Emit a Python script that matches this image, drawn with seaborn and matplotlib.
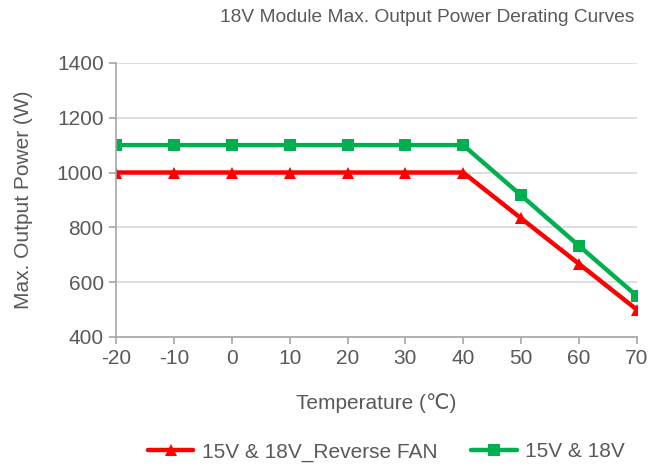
import matplotlib
matplotlib.use("Agg")
import matplotlib.pyplot as plt
import seaborn as sns
import pandas as pd

# data
temperature = [-20, -10, 0, 10, 20, 30, 40, 50, 60, 70]
reverse_fan = [1000, 1000, 1000, 1000, 1000, 1000, 1000, 833, 667, 500]
normal_fan = [1100, 1100, 1100, 1100, 1100, 1100, 1100, 917, 733, 550]
series_names = ["15V & 18V_Reverse FAN", "15V & 18V"]

df = pd.concat([
    pd.DataFrame({"temp": temperature, "power": reverse_fan, "series": series_names[0]}),
    pd.DataFrame({"temp": temperature, "power": normal_fan, "series": series_names[1]}),
])

sns.set_style("white")
plt.rcParams["font.family"] = ["Liberation Sans", "DejaVu Sans"]
plt.rcParams["axes.unicode_minus"] = False
text_col = "#595959"

fig = plt.figure(figsize=(6.49, 4.66), dpi=100)
ax = fig.add_axes([0.179, 0.277, 0.802, 0.588])

sns.lineplot(data=df, x="temp", y="power", hue="series", style="series",
             palette=["#ff0000", "#00b050"], markers=["^", "s"], dashes=False,
             linewidth=3.2, markersize=9, markeredgewidth=0, ax=ax)

ax.set_xlim(-20, 70)
ax.set_ylim(400, 1400)
ax.set_xticks(temperature)
ax.set_yticks(range(400, 1401, 200))
ax.margins(0)
ax.yaxis.grid(True, color="#d9d9d9", linewidth=1.2)
ax.set_axisbelow(True)
for side in ["top", "right"]:
    ax.spines[side].set_visible(False)
for side in ["left", "bottom"]:
    ax.spines[side].set_color("#a6a6a6")
    ax.spines[side].set_linewidth(1.2)
ax.tick_params(axis="both", direction="out", length=5, width=1.2,
               color="#a6a6a6", labelsize=15, labelcolor=text_col, pad=4)
ax.tick_params(left=True, bottom=True)

ax.set_xlabel("Temperature (℃)", fontsize=15, color=text_col, labelpad=18)
ax.set_ylabel("Max. Output Power (W)", fontsize=15, color=text_col, labelpad=17)

fig.text(0.978, 0.962, "18V Module Max. Output Power Derating Curves",
         ha="right", va="center", fontsize=13.8, color=text_col)

handles, labels = ax.get_legend_handles_labels()
ax.legend(handles, labels, loc="center", bbox_to_anchor=(0.595, 0.03),
          bbox_transform=fig.transFigure, ncol=2, frameon=False,
          fontsize=15, labelcolor=text_col, handlelength=2.2,
          handletextpad=0.4, columnspacing=1.6)

fig.savefig("out.png", dpi=100)
